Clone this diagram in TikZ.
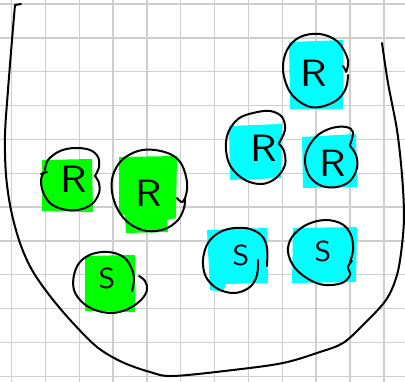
\documentclass[tikz,border=0pt]{standalone}
\usetikzlibrary{calc}
\definecolor{paperline}{HTML}{CFCFCF}
\definecolor{markgreen}{HTML}{00FF00}
\definecolor{markcyan}{HTML}{00FFFF}
\tikzset{
  gridline/.style={draw=paperline, line width=1.4pt},
  ink/.style={draw=black, line width=2pt, line cap=round, line join=round},
  greenmark/.style={fill=markgreen, draw=none},
  cyanmark/.style={fill=markcyan, draw=none},
  letterR/.style={inner sep=0pt, font=\sffamily\fontsize{38}{38}\selectfont, xscale=1.15},
  letterS/.style={inner sep=0pt, font=\sffamily\fontsize{29}{29}\selectfont, xscale=1.1},
}
\begin{document}
\begin{tikzpicture}[x=1pt, y=-1pt]
  % page and squared paper
  \fill[white] (0,0) rectangle (405,382);
  \useasboundingbox (0,0) rectangle (405,382);
  \foreach \k in {0,...,11} {
    \draw[gridline] ({11.5+33.85*\k},0) -- ({11.5+33.85*\k},382);
    \draw[gridline] (0,{4+33.85*\k}) -- (405,{4+33.85*\k});
  }

  % highlighter marks
  \fill[cyanmark]  (289,42) -- (343,40) -- (343,109) -- (290,109) -- cycle;
  \fill[greenmark] (42,160) -- (92,159) -- (93,212) -- (42,211) -- cycle;
  \fill[greenmark] (119,157) -- (177,156) -- (176,218) -- (167,220) -- (168,232)
                   -- (126,233) -- (125,215) -- (119,214) -- cycle;
  \fill[greenmark] (85,256) -- (135,255) -- (135,312) -- (85,311) -- cycle;
  \fill[cyanmark]  (229,126) -- (282,124) -- (281,178) -- (230,180) -- cycle;
  \fill[cyanmark]  (302,137) -- (356,134) -- (357,187) -- (303,188) -- cycle;
  \fill[cyanmark]  (207,230) -- (267,228) -- (268,283) -- (226,284) -- (223,292)
                   -- (210,290) -- cycle;
  \fill[cyanmark]  (293,228) -- (357,227) -- (356,282) -- (292,283) -- cycle;

  % the bowl
  \draw[ink] (21,4) -- (15,5)
    plot[smooth, tension=0.55] coordinates {
      (15,5) (12,40) (8,90) (5,135) (6,175) (11,210) (20,243) (32,270)
      (50,296) (72,322) (97,347) (122,362) (150,372) (173,376) (233,370)
      (283,363) (320,352) (343,343) (363,325) (386,300) (397,275) (402,245)
      (404,215) (402,175) (397,130) (388,83) (382,43)};

  % letters
  \node[letterR] (r1) at (314,73)  {R};
  \node[letterR] (r2) at (74,179)  {R};
  \node[letterR] (r3) at (149,193) {R};
  \node[letterR] (r4) at (264,148) {R};
  \node[letterR] (r5) at (333,163) {R};
  \node[letterS] (s1) at (107,278) {S};
  \node[letterS] (s2) at (241,255) {S};
  \node[letterS] (s3) at (323,251) {S};

  % hand drawn rings round the letters
  \draw[ink] plot[smooth, tension=0.6] coordinates {
    (346,72) (348,60) (338,42) (320,34) (300,37) (287,50) (283,70) (290,92)
    (305,105) (320,107) (337,100) (346,88) (348,75)};
  \draw[ink] (343,66) -- (346,71);

  \draw[ink] plot[smooth, tension=0.6] coordinates {
    (45,170) (48,160) (60,151) (75,148) (90,150) (98,157) (99,167) (95,176)};
  \draw[ink] plot[smooth, tension=0.6] coordinates {
    (95,176) (99,183) (99,193) (92,204) (78,210) (62,209) (50,203) (43,192)
    (41,180) (44,172)};
  \draw[ink] (41,174) -- (47,172);

  \draw[ink] plot[smooth, tension=0.6] coordinates {
    (177,198) (182,202) (186,195) (187,182) (182,165) (172,155) (155,150)
    (138,151) (122,160) (113,175) (112,192) (118,210) (130,224) (147,231)
    (165,229) (178,220) (184,208) (185,199)};

  \draw[ink] plot[smooth, tension=0.6] coordinates {
    (132,291) (134,278) (130,265) (122,256) (108,252) (92,254) (80,262)
    (74,275) (74,290) (82,302) (95,310) (112,313) (128,309) (141,300)
    (147,290) (145,281) (139,276)};

  \draw[ink] plot[smooth, tension=0.6] coordinates {
    (279,143) (285,130) (282,117) (270,111) (253,113) (238,119) (228,133)
    (226,150) (231,167) (245,180) (262,184) (276,178) (285,165) (284,151)
    (279,144)};

  \draw[ink] plot[smooth, tension=0.6] coordinates {
    (350,145) (353,132) (346,127) (332,128) (318,135) (308,148) (305,162)
    (310,177) (322,186) (337,187) (350,181) (357,168) (356,155) (350,146)};

  \draw[ink] plot[smooth, tension=0.6] coordinates {
    (258,260) (257,275) (250,287) (235,293) (218,289) (206,277) (203,260)
    (208,243) (220,232) (235,228) (250,229) (262,236) (267,248) (267,266)};

  \draw[ink] plot[smooth, tension=0.6] coordinates {
    (350,262) (353,250) (351,235) (342,224) (325,220) (306,225) (292,237)
    (288,252) (295,268) (310,280) (325,285) (342,283) (350,275) (348,267)
    (352,261)};
\end{tikzpicture}
\end{document}
